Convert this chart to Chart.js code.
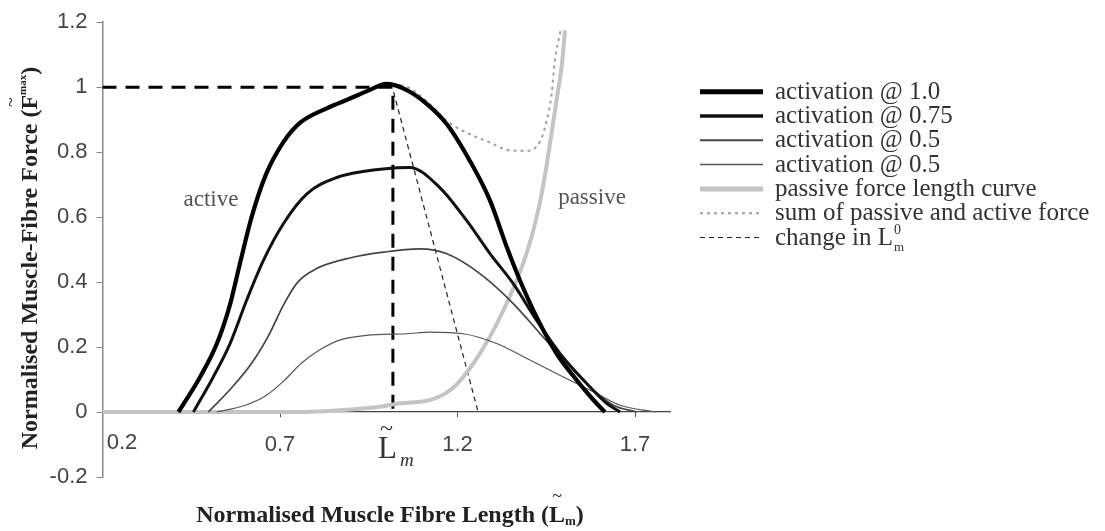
<!DOCTYPE html>
<html id="html">
<head>
<meta charset="utf-8">
<title>Force-length curve</title>
<script src="https://cdn.jsdelivr.net/npm/chart.js@4.4.1/dist/chart.umd.min.js"></script>
<style>
  body{margin:0;background:#fff;}
  #wrap{width:1105px;height:531px;position:relative;}
</style>
</head>
<body>
<div id="wrap"><canvas id="myChart"></canvas></div>
<script>
// tick labels
const xTicks = [0.2, 0.7, 1.2, 1.7]
const yTicks = [-0.2, 0, 0.2, 0.4, 0.6, 0.8, 1, 1.2]

// activation @ 1.0
const lenAct100 = [0.414, 0.475, 0.522, 0.559, 0.59, 0.62, 0.66, 0.709, 0.756, 0.832, 0.897, 0.95, 1.0, 1.05, 1.104, 1.17, 1.235, 1.292, 1.339, 1.376, 1.423, 1.479, 1.536, 1.583, 1.615]
const forceAct100 = [0, 0.108, 0.21, 0.33, 0.47, 0.6, 0.73, 0.83, 0.89, 0.935, 0.965, 0.99, 1.01, 0.995, 0.957, 0.886, 0.773, 0.65, 0.507, 0.405, 0.292, 0.18, 0.098, 0.037, 0]

// activation @ 0.75
const lenAct75 = [0.456, 0.512, 0.559, 0.606, 0.653, 0.709, 0.775, 0.86, 0.944, 1.029, 1.065, 1.15, 1.226, 1.292, 1.357, 1.423, 1.489, 1.564, 1.62, 1.658]
const forceAct75 = [0, 0.108, 0.21, 0.344, 0.466, 0.579, 0.671, 0.722, 0.742, 0.752, 0.753, 0.691, 0.589, 0.487, 0.395, 0.282, 0.18, 0.088, 0.027, 0]

// activation @ 0.5
const lenAct50 = [0.498, 0.56, 0.62, 0.67, 0.71, 0.75, 0.8, 0.9, 0.991, 1.094, 1.17, 1.263, 1.357, 1.433, 1.508, 1.583, 1.639, 1.705]
const forceAct50 = [0, 0.07, 0.15, 0.24, 0.33, 0.4, 0.44, 0.475, 0.492, 0.502, 0.487, 0.426, 0.334, 0.241, 0.149, 0.067, 0.021, 0]

// activation @ 0.25 (labelled 0.5 in the legend)
const lenAct25 = [0.522, 0.6, 0.66, 0.71, 0.76, 0.81, 0.87, 0.944, 1.057, 1.123, 1.216, 1.31, 1.404, 1.498, 1.592, 1.658, 1.756]
const forceAct25 = [0, 0.02, 0.05, 0.095, 0.15, 0.19, 0.222, 0.236, 0.241, 0.246, 0.241, 0.211, 0.16, 0.108, 0.057, 0.021, 0]

// passive force length curve
const lenPassive = [0.2, 0.75, 0.9, 0.98, 1.038, 1.123, 1.179, 1.216, 1.263, 1.31, 1.357, 1.395, 1.423, 1.442, 1.461, 1.479, 1.494, 1.503]
const forcePassive = [0, 0, 0.008, 0.016, 0.027, 0.037, 0.067, 0.108, 0.18, 0.27, 0.38, 0.49, 0.6, 0.7, 0.83, 0.96, 1.07, 1.175]

// sum of passive and active
const lenSum = [1.0, 1.06, 1.123, 1.17, 1.216, 1.282, 1.357, 1.395, 1.433, 1.451, 1.465, 1.474, 1.49]
const forceSum = [1.01, 1.0, 0.947, 0.896, 0.865, 0.834, 0.804, 0.804, 0.834, 0.896, 0.978, 1.08, 1.173]

// optimum length guide and change in L0m
const lenOptimum = [0.2, 1.018, 1.018]
const forceOptimum = [1, 1, -0.01]
const lenShift = [1.02, 1.258]
const forceShift = [0.985, 0]

const serif = '"Liberation Serif", "Times New Roman", serif'
const sans = '"Liberation Sans", Arial, sans-serif'

const pts = (xs, ys) => xs.map((x, i) => ({ x: x, y: ys[i] }))

const datasets = [
  { label: 'activation @ 1.0', data: pts(lenAct100, forceAct100), borderColor: '#000', borderWidth: 4.2, legendWidth: 5 },
  { label: 'activation @ 0.75', data: pts(lenAct75, forceAct75), borderColor: '#111', borderWidth: 3, legendWidth: 3.5 },
  { label: 'activation @ 0.5', data: pts(lenAct50, forceAct50), borderColor: '#444', borderWidth: 1.7, legendWidth: 2 },
  { label: 'activation @ 0.5', data: pts(lenAct25, forceAct25), borderColor: '#555', borderWidth: 1.2, legendWidth: 1.5 },
  { label: 'passive force length curve', data: pts(lenPassive, forcePassive), borderColor: '#c4c4c4', borderWidth: 4, legendWidth: 5 },
  { label: 'sum of passive and active force', data: pts(lenSum, forceSum), borderColor: '#a0a0a0', borderWidth: 2, borderDash: [3, 4], legendWidth: 2 },
  { label: 'change in L', data: pts(lenShift, forceShift), borderColor: '#222', borderWidth: 1.2, borderDash: [5, 4], tension: 0, cubicInterpolationMode: 'default', legendWidth: 1.2 },
  { label: 'optimum', data: pts(lenOptimum, forceOptimum), borderColor: '#000', borderWidth: 3, borderDash: [14, 9], tension: 0, cubicInterpolationMode: 'default', noLegend: true }
]

function richText(ctx, parts, cx, cy) {
  let total = 0
  parts.forEach(p => { ctx.font = p.f; p.w = ctx.measureText(p.t).width; total += p.w })
  let x = cx - total / 2
  ctx.textAlign = 'left'
  ctx.textBaseline = 'alphabetic'
  parts.forEach(p => {
    ctx.font = p.f
    ctx.fillText(p.t, x, cy + (p.dy || 0))
    if (p.tilde) {
      ctx.font = p.tf
      ctx.textAlign = 'center'
      ctx.fillText('~', x + p.w / 2, cy + p.tdy)
      ctx.textAlign = 'left'
    }
    x += p.w
  })
}

const annotate = {
  id: 'annotate',
  afterDraw(chart) {
    const ctx = chart.ctx
    ctx.save()

    // first x tick label sits right of the y axis
    ctx.fillStyle = '#444'
    ctx.font = '22px ' + sans
    ctx.textAlign = 'center'
    ctx.textBaseline = 'middle'
    ctx.fillText('0.2', 122, 443)

    // region labels
    ctx.fillStyle = '#555'
    ctx.font = '23px ' + serif
    ctx.fillText('active', 211, 200)
    ctx.fillText('passive', 592, 198)

    // L~m under the axis
    ctx.fillStyle = '#333'
    ctx.textAlign = 'left'
    ctx.textBaseline = 'alphabetic'
    ctx.font = '31px ' + serif
    ctx.fillText('L', 378, 458)
    ctx.font = '24px ' + serif
    ctx.fillText('~', 380, 436)
    ctx.font = 'italic 19px ' + serif
    ctx.fillText('m', 400, 466)

    // axis titles
    ctx.fillStyle = '#222'
    richText(ctx, [
      { t: 'Normalised Muscle Fibre Length (', f: 'bold 24px ' + serif },
      { t: 'L', f: 'bold 24px ' + serif, tilde: true, tf: '18px ' + serif, tdy: -20 },
      { t: 'm', f: 'bold 13px ' + serif, dy: 3 },
      { t: ')', f: 'bold 24px ' + serif }
    ], 390, 522)

    ctx.save()
    ctx.translate(37, 258)
    ctx.rotate(-Math.PI / 2)
    richText(ctx, [
      { t: 'Normalised Muscle-Fibre Force (', f: 'bold 24px ' + serif },
      { t: 'F', f: 'bold 24px ' + serif, tilde: true, tf: '18px ' + serif, tdy: -20 },
      { t: 'max', f: 'bold 11px ' + serif, dy: -11 },
      { t: ')', f: 'bold 24px ' + serif }
    ], 0, 0)
    ctx.restore()

    // legend
    let row = 0
    chart.data.datasets.forEach(ds => {
      if (ds.noLegend) return
      const y = 91.7 + row * 24.3
      ctx.beginPath()
      ctx.strokeStyle = ds.borderColor
      ctx.lineWidth = ds.legendWidth
      ctx.setLineDash(ds.borderDash || [])
      ctx.moveTo(700, y)
      ctx.lineTo(763, y)
      ctx.stroke()
      ctx.setLineDash([])
      ctx.fillStyle = '#333'
      ctx.font = '25px ' + serif
      ctx.textAlign = 'left'
      ctx.textBaseline = 'alphabetic'
      ctx.fillText(ds.label, 775, y + 7)
      if (ds.label === 'change in L') {
        const w = ctx.measureText(ds.label).width
        ctx.font = '14px ' + serif
        ctx.fillText('0', 775 + w + 1, y - 4)
        ctx.font = '13px ' + serif
        ctx.fillText('m', 775 + w + 1, y + 13)
      }
      row++
    })
    ctx.restore()
  }
}

const ctx = document.getElementById('myChart')
const myChart = new Chart(ctx, {
  type: 'line',
  data: { datasets: datasets },
  options: {
    responsive: true,
    maintainAspectRatio: false,
    animation: false,
    layout: { padding: { left: 0, top: 21, right: 434.5, bottom: 54 } },
    elements: {
      point: { radius: 0 },
      line: { cubicInterpolationMode: 'monotone', fill: false }
    },
    plugins: {
      legend: { display: false },
      tooltip: { enabled: false }
    },
    scales: {
      x: {
        type: 'linear',
        position: { y: 0 },
        min: 0.2,
        max: 1.8,
        afterBuildTicks: s => { s.ticks = xTicks.map(v => ({ value: v })) },
        ticks: {
          font: { family: sans, size: 22 },
          color: '#444',
          padding: 15,
          maxRotation: 0,
          autoSkip: false,
          callback: v => (v === 0.2 ? '' : String(v))
        },
        grid: { drawOnChartArea: false, drawTicks: true, tickLength: 5, color: '#555' },
        border: { color: '#444', width: 1.2 }
      },
      y: {
        type: 'linear',
        min: -0.2,
        max: 1.2,
        afterBuildTicks: s => { s.ticks = yTicks.map(v => ({ value: v })) },
        afterFit: s => { s.width = 102.5 },
        ticks: {
          font: { family: sans, size: 22 },
          color: '#444',
          padding: 9,
          callback: v => String(v)
        },
        grid: { drawOnChartArea: false, drawTicks: true, tickLength: 6, color: '#888' },
        border: { color: '#888', width: 1.5 }
      }
    }
  },
  plugins: [annotate]
})
</script>
</body>
</html>
